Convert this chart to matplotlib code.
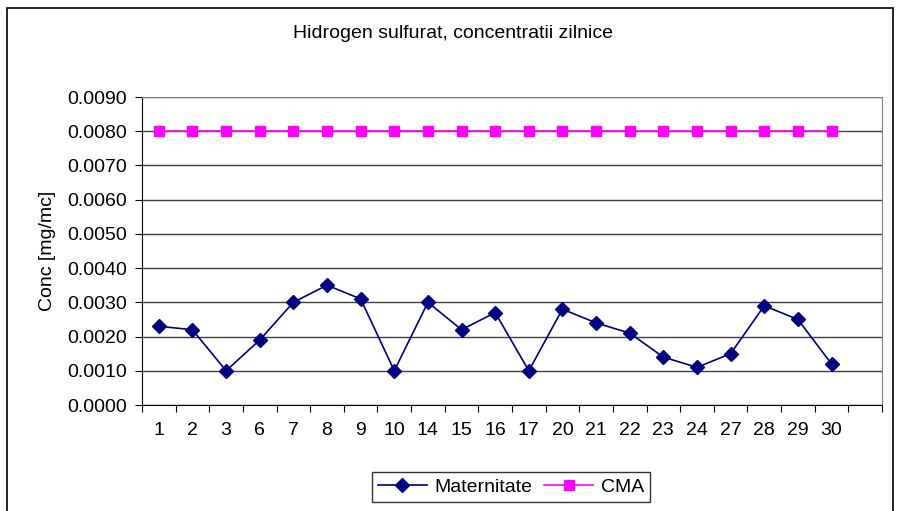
import matplotlib.pyplot as plt
from matplotlib.patches import Rectangle

# Data
zile = ['1', '2', '3', '6', '7', '8', '9', '10', '14', '15', '16', '17',
        '20', '21', '22', '23', '24', '27', '28', '29', '30']
maternitate = [0.0023, 0.0022, 0.0010, 0.0019, 0.0030, 0.0035, 0.0031,
               0.0010, 0.0030, 0.0022, 0.0027, 0.0010, 0.0028, 0.0024,
               0.0021, 0.0014, 0.0011, 0.0015, 0.0029, 0.0025, 0.0012]
cma = [0.0080] * len(zile)

plt.rcParams['font.family'] = ['Liberation Sans', 'DejaVu Sans']
fs = 14

fig = plt.figure(figsize=(8.97, 5.11), dpi=100)
ax = fig.add_axes([142 / 897, 1 - 405 / 511, 740 / 897, 308 / 511])

x = list(range(len(zile)))
ax.plot(x, maternitate, color='#000080', marker='D', markersize=7,
        linewidth=1.2, label='Maternitate')
ax.plot(x, cma, color='#FF00FF', marker='s', markersize=6.5,
        linewidth=1.2, label='CMA')

# Excel style category axis with one empty slot at the end
ax.set_xlim(-0.5, len(zile) + 0.5)
ax.set_xticks([i - 0.5 for i in range(len(zile) + 2)], minor=False)
ax.set_xticklabels([])
ax.set_xticks(x, minor=True)
ax.set_xticklabels(zile, minor=True, fontsize=fs)
ax.tick_params(axis='x', which='minor', length=0, pad=12)
ax.tick_params(axis='x', which='major', length=5, direction='out', color='black')

ax.set_ylim(0, 0.009)
ax.set_yticks([i * 0.001 for i in range(10)])
ax.set_yticklabels(['%.4f' % (i * 0.001) for i in range(10)], fontsize=fs)
ax.tick_params(axis='y', length=5, direction='out', color='black', pad=6)
ax.yaxis.grid(True, color='#404040', linewidth=1)
ax.set_axisbelow(True)

for s in ['top', 'right']:
    ax.spines[s].set_color('#808080')
for s in ['left', 'bottom']:
    ax.spines[s].set_color('black')

ax.set_ylabel('Conc [mg/mc]', fontsize=fs, labelpad=8)
fig.text(453 / 897, 1 - 33 / 511, 'Hidrogen sulfurat, concentratii zilnice',
         ha='center', va='center', fontsize=fs)

leg = fig.legend(loc='center', bbox_to_anchor=(511 / 897, 1 - 487 / 511),
                 ncol=2, fontsize=fs, frameon=True, fancybox=False,
                 edgecolor='black', handlelength=2.5, columnspacing=0.6,
                 handletextpad=0.4, borderpad=0.3, borderaxespad=0)
leg.get_frame().set_linewidth(1)

# outer chart border
fig.patches.append(Rectangle((7 / 897, -0.1), 886 / 897, 1.1 - 8 / 511,
                             transform=fig.transFigure, fill=False,
                             edgecolor='black', linewidth=1.2))

fig.savefig('out.png', dpi=100)
